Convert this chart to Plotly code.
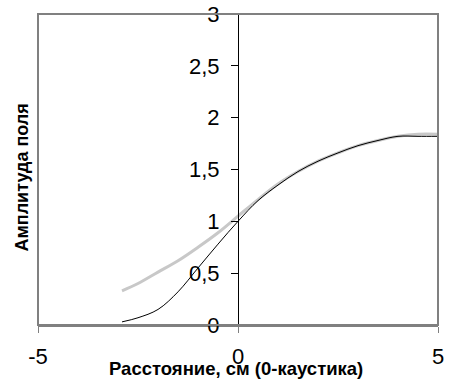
import plotly.graph_objects as go

x_vals = [-2.9, -2.5, -2.0, -1.5, -1.0, -0.5, 0.0, 0.5, 1.0, 1.5, 2.0, 2.5, 3.0, 3.5, 4.0, 4.5, 5.0]
black_vals = [0.03, 0.07, 0.15, 0.32, 0.55, 0.78, 1.00, 1.20, 1.35, 1.48, 1.58, 1.66, 1.73, 1.78, 1.82, 1.82, 1.82]
gray_vals = [0.33, 0.40, 0.51, 0.62, 0.75, 0.89, 1.05, 1.21, 1.36, 1.48, 1.58, 1.66, 1.73, 1.78, 1.82, 1.84, 1.84]

x_ticks = [-5, 0, 5]
x_tick_text = ["-5", "0", "5"]
y_ticks = [0, 0.5, 1, 1.5, 2, 2.5, 3]
y_tick_text = ["0", "0,5", "1", "1,5", "2", "2,5", "3"]

fig = go.Figure()
fig.add_trace(go.Scatter(x=x_vals, y=gray_vals, mode="lines",
                         line=dict(color="#c8c8c8", width=3, shape="spline"),
                         showlegend=False))
fig.add_trace(go.Scatter(x=x_vals, y=black_vals, mode="lines",
                         line=dict(color="black", width=1, shape="spline"),
                         showlegend=False))

fig.update_layout(
    width=460, height=382,
    margin=dict(l=38, r=22, t=14, b=57, autoexpand=False),
    paper_bgcolor="white", plot_bgcolor="white",
    font=dict(family="Liberation Sans, Arial, sans-serif", color="black"),
    xaxis=dict(range=[-5, 5], tickvals=x_ticks, ticktext=x_tick_text,
               automargin=False,
               showgrid=False, zeroline=False,
               showline=True, linecolor="#808080", linewidth=2,
               ticks="outside", ticklen=6, tickcolor="#808080", tickwidth=1,
               ticklabelstandoff=5,
               tickfont=dict(size=22)),
    yaxis=dict(range=[0, 3], tickvals=y_ticks, ticktext=y_tick_text,
               anchor="free", position=0.5, automargin=False,
               ticklabeloverflow="allow",
               showgrid=False, zeroline=False,
               showline=True, linecolor="black", linewidth=1,
               ticks="outside", ticklen=7, tickcolor="black", tickwidth=1,
               ticklabelstandoff=7,
               tickfont=dict(size=22)),
    shapes=[dict(type="rect", xref="paper", yref="paper", x0=0, x1=1, y0=0, y1=1,
                 line=dict(color="#808080", width=2), layer="above")],
    annotations=[
        dict(text="<b>Амплитуда поля</b>", textangle=-90,
             xref="paper", yref="paper", x=0, y=0.5,
             xshift=-17, yshift=-8, xanchor="center", yanchor="middle",
             showarrow=False, font=dict(size=18)),
        dict(text="<b>Расстояние, см (0-каустика)</b>",
             xref="paper", yref="paper", x=0.5, y=0,
             xshift=-2, yshift=-43, xanchor="center", yanchor="middle",
             showarrow=False, font=dict(size=18.5)),
    ],
)

fig.write_html("out.html",
               config={"displayModeBar": False},
               post_script="document.body.style.margin='0px';document.body.style.overflow='hidden';")
